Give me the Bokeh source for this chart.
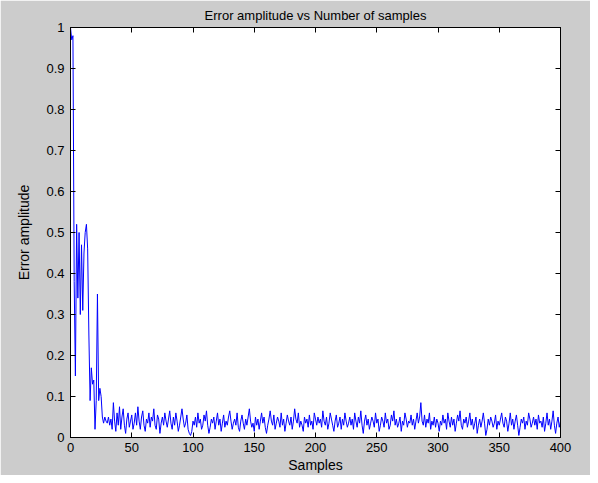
from bokeh.plotting import figure
from bokeh.models import Range1d, FixedTicker, LinearAxis, Title
from bokeh.embed import file_html
from bokeh.resources import INLINE

# ---- data ----
early = [1.00, 0.97, 0.98, 0.38, 0.15, 0.52, 0.34, 0.50, 0.30, 0.47,
         0.31, 0.45, 0.50, 0.52, 0.46, 0.25, 0.09, 0.17, 0.13, 0.14,
         0.02, 0.09, 0.35, 0.09, 0.12, 0.10, 0.05, 0.035, 0.05]
noise = [
    0.04, 0.035, 0.05, 0.03, 0.045, 0.02, 0.085, 0.04, 0.015, 0.06, 0.03, 0.075, 0.02, 0.05, 0.07, 0.03, 0.01, 0.045, 0.06, 0.025, 0.04, 0.055, 0.02, 0.035, 0.06,
    0.03, 0.075, 0.04, 0.02, 0.05, 0.065, 0.03, 0.015, 0.045, 0.035, 0.06, 0.025, 0.05, 0.04, 0.07, 0.03, 0.02, 0.055, 0.045, 0.01, 0.035, 0.05, 0.03, 0.06, 0.04,
    0.025, 0.045, 0.065, 0.035, 0.02, 0.05, 0.03, 0.06, 0.04, 0.015, 0.03, 0.05, 0.07, 0.045, 0.025, 0.035, 0.055, 0.02, 0.01, 0.005, 0.015, 0.04, 0.03, 0.05, 0.025,
    0.06, 0.035, 0.045, 0.02, 0.03, 0.055, 0.04, 0.065, 0.03, 0.01, 0.025, 0.045, 0.035, 0.05, 0.02, 0.04, 0.06, 0.03, 0.045, 0.015, 0.035, 0.055, 0.025, 0.04, 0.03,
    0.05, 0.065, 0.04, 0.02, 0.035, 0.045, 0.03, 0.06, 0.025, 0.015, 0.04, 0.055, 0.035, 0.02, 0.045, 0.03, 0.05, 0.07, 0.04, 0.025, 0.035, 0.015, 0.05, 0.03, 0.045,
    0.02, 0.04, 0.06, 0.035, 0.05, 0.025, 0.01, 0.03, 0.045, 0.065, 0.04, 0.03, 0.055, 0.02, 0.035, 0.05, 0.04, 0.025, 0.06, 0.03, 0.045, 0.015, 0.035, 0.055, 0.04,
    0.03, 0.05, 0.02, 0.04, 0.07, 0.045, 0.035, 0.06, 0.025, 0.04, 0.03, 0.015, 0.05, 0.035, 0.045, 0.025, 0.055, 0.03, 0.04, 0.02, 0.06, 0.045, 0.03, 0.05, 0.035,
    0.045, 0.025, 0.065, 0.04, 0.03, 0.05, 0.02, 0.035, 0.06, 0.045, 0.03, 0.015, 0.04, 0.055, 0.025, 0.035, 0.05, 0.02, 0.045, 0.03, 0.06, 0.04, 0.025, 0.035, 0.05,
    0.03, 0.045, 0.02, 0.06, 0.04, 0.025, 0.05, 0.035, 0.065, 0.03, 0.01, 0.04, 0.055, 0.03, 0.045, 0.02, 0.035, 0.05, 0.04, 0.025, 0.06, 0.035, 0.045, 0.015, 0.03,
    0.05, 0.04, 0.025, 0.06, 0.035, 0.045, 0.02, 0.03, 0.055, 0.04, 0.065, 0.03, 0.045, 0.025, 0.035, 0.05, 0.015, 0.04, 0.03, 0.06, 0.045, 0.025, 0.04, 0.035, 0.055,
    0.03, 0.045, 0.02, 0.04, 0.06, 0.035, 0.05, 0.085, 0.04, 0.03, 0.055, 0.025, 0.045, 0.035, 0.06, 0.02, 0.04, 0.03, 0.05, 0.025, 0.045, 0.035, 0.015, 0.04, 0.03,
    0.055, 0.035, 0.045, 0.02, 0.06, 0.04, 0.025, 0.05, 0.03, 0.045, 0.015, 0.035, 0.055, 0.04, 0.065, 0.03, 0.02, 0.045, 0.035, 0.05, 0.025, 0.04, 0.06, 0.03, 0.045,
    0.02, 0.035, 0.05, 0.01, 0.03, 0.045, 0.025, 0.04, 0.06, 0.035, 0.005, 0.02, 0.045, 0.03, 0.05, 0.04, 0.025, 0.035, 0.055, 0.02, 0.04, 0.03, 0.045, 0.06, 0.035,
    0.025, 0.05, 0.04, 0.015, 0.035, 0.06, 0.03, 0.045, 0.02, 0.04, 0.055, 0.03, 0.005, 0.025, 0.045, 0.035, 0.05, 0.02, 0.04, 0.03, 0.06, 0.045, 0.025, 0.035, 0.05,
    0.03, 0.045, 0.02, 0.055, 0.035, 0.04, 0.025, 0.05, 0.015, 0.035, 0.06, 0.03, 0.045, 0.02, 0.04, 0.065, 0.03, 0.01, 0.035, 0.05, 0.025, 0.04,
]
error_amplitude = early + noise
samples = list(range(len(error_amplitude)))

x_ticks = [0, 50, 100, 150, 200, 250, 300, 350, 400]
y_ticks = [0, 0.1, 0.2, 0.3, 0.4, 0.5, 0.6, 0.7, 0.8, 0.9, 1]

FONT = "Liberation Sans"
BG = "#cccccc"

p = figure(width=590, height=475, output_backend="svg", toolbar_location=None,
           x_range=Range1d(0, 400), y_range=Range1d(0, 1),
           min_border_left=70, min_border_right=30,
           min_border_top=27, min_border_bottom=38,
           x_axis_label="Samples", y_axis_label="Error amplitude")
p.title = Title(text="Error amplitude vs Number of samples", align="center",
                vertical_align="top",
                text_font=FONT, text_font_size="13px", text_font_style="normal",
                text_color="black", standoff=6)
p.border_fill_color = BG
p.background_fill_color = "white"
p.outline_line_color = "black"
p.xgrid.visible = False
p.ygrid.visible = False

p.line(samples, error_amplitude, line_color="#0000ff", line_width=1)

def style(ax, ticks, labels=True):
    ax.ticker = FixedTicker(ticks=ticks)
    ax.major_tick_in = 5
    ax.major_tick_out = 0
    ax.minor_tick_line_color = None
    ax.axis_line_color = "black"
    ax.major_tick_line_color = "black"
    ax.major_label_text_font = FONT
    ax.major_label_text_font_size = "13px"
    ax.major_label_text_color = "black"
    ax.axis_label_text_font = FONT
    ax.axis_label_text_font_size = "14px"
    ax.axis_label_text_font_style = "normal"
    ax.axis_label_text_color = "black"
    if not labels:
        ax.major_label_text_font_size = "1px"
        ax.major_label_text_color = None
        ax.major_label_standoff = 0

style(p.xaxis[0], x_ticks)
p.xaxis[0].major_label_standoff = 5
p.xaxis[0].axis_label_standoff = 2
style(p.yaxis[0], y_ticks)
p.yaxis[0].major_label_standoff = 6
p.yaxis[0].axis_label_standoff = 11
p.yaxis[0].major_label_overrides = {0: "0", 1: "1"}

top = LinearAxis()
style(top, x_ticks, labels=False)
p.add_layout(top, "above")
right = LinearAxis()
style(right, y_ticks, labels=False)
p.add_layout(right, "right")

open("out.html", "w").write(file_html(p, INLINE))
